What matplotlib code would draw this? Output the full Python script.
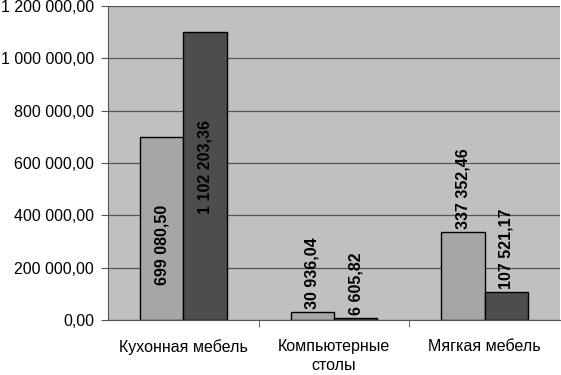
import numpy as np
import matplotlib.pyplot as plt
from matplotlib.ticker import FuncFormatter

# данные
categories = ['Кухонная мебель', 'Компьютерные\nстолы', 'Мягкая мебель']
series_1 = [699080.50, 30936.04, 337352.46]
series_2 = [1102203.36, 6605.82, 107521.17]
labels_1 = ['699 080,50', '30 936,04', '337 352,46']
labels_2 = ['1 102 203,36', '6 605,82', '107 521,17']

plt.rcParams['font.family'] = ['Liberation Sans', 'DejaVu Sans']

fig = plt.figure(figsize=(5.61, 3.75), dpi=100)
ax = fig.add_axes([108 / 561, 55 / 375, 452 / 561, 314 / 375])
ax.set_facecolor('#c0c0c0')

x = np.arange(len(categories))
w = 43 / 150
ax.bar(x - w / 2, series_1, w, color='#a6a6a6', edgecolor='black', linewidth=1, zorder=3)
ax.bar(x + w / 2, series_2, w, color='#4d4d4d', edgecolor='black', linewidth=1, zorder=3)

ymax = 1200000
ax.set_ylim(0, ymax)
ax.set_xlim(-0.5, 2.5)


def fmt(v, pos):
    s = '{:,.2f}'.format(v).replace(',', ' ').replace('.', ',')
    return s


ax.yaxis.set_major_formatter(FuncFormatter(fmt))
ax.set_yticks(np.arange(0, ymax + 1, 200000))
ax.grid(axis='y', color='#555555', linewidth=0.9, zorder=1)
ax.tick_params(axis='y', length=5, color='#555555', labelsize=11.5, pad=5)

ax.set_xticks(x)
ax.set_xticklabels(categories, fontsize=11.5, linespacing=1.3)
ax.tick_params(axis='x', length=0, pad=14)
ax.set_xticks([0.5, 1.5], minor=True)
ax.tick_params(axis='x', which='minor', length=5, color='#555555')

for s in ['top', 'right']:
    ax.spines[s].set_visible(False)
ax.spines['left'].set_color('#555555')
ax.spines['bottom'].set_color('#555555')


# подписи значений
def put_label(xpos, val, text):
    if val > 500000:
        # высокие столбцы - подпись внутри
        ax.text(xpos, val * 0.41 if val < 800000 else val * 0.53, text, rotation=90,
                ha='center', va='center', fontsize=11.5, fontweight='bold', zorder=4)
    else:
        ax.text(xpos, val + 12000, text, rotation=90,
                ha='center', va='bottom', fontsize=11.5, fontweight='bold', zorder=4)


for i in range(len(categories)):
    put_label(x[i] - w / 2, series_1[i], labels_1[i])
    put_label(x[i] + w / 2, series_2[i], labels_2[i])

fig.savefig('out.png', dpi=100)
